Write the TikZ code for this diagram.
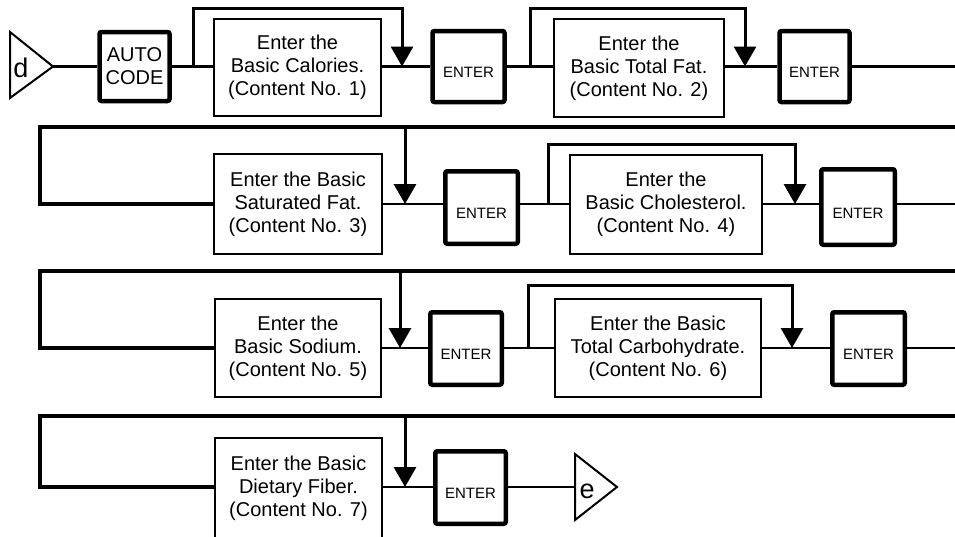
\documentclass[tikz,border=0pt]{standalone}
\usepackage{fontspec}
\setmainfont{Liberation Sans}
\usetikzlibrary{arrows.meta}
\tikzset{
  txtbox/.style={draw, line width=2pt, inner sep=0pt, align=center,
    font=\fontsize{20}{23}\selectfont},
  keybox/.style={draw, line width=4.5pt, rounded corners=2pt, inner sep=0pt,
    align=center, minimum width=72pt, minimum height=71pt,
    font=\fontsize{15}{18}\selectfont, text height=22pt, text depth=0pt},
  autobox/.style={draw, line width=4.5pt, rounded corners=2pt, inner sep=0pt,
    align=center, font=\fontsize{20}{23}\selectfont},
  flow/.style={line width=2.5pt},
  branch/.style={line width=3pt, -{Triangle[width=22pt,length=20pt]}},
  drop/.style={line width=3pt, -{Triangle[width=22pt,length=20pt]}},
  wrap/.style={line width=3.5pt},
  tri/.style={line width=2pt, line join=miter},
  trilabel/.style={inner sep=0pt, font=\fontsize{27}{30}\selectfont}
}
\begin{document}
\begin{tikzpicture}[x=1pt,y=-1pt]
\useasboundingbox (0,0) rectangle (955,536);

% ---------- Row 1 (main line y=66.5) ----------
\coordinate (dtop) at (10,32);
\coordinate (dbot) at (10,98);
\coordinate (dtip) at (53,66.5);
\draw[tri] (dtop) -- (dtip) -- (dbot) -- cycle;
\node[trilabel] (dl) at (21,68) {d};

\node[autobox, minimum width=70pt, minimum height=69pt] (auto) at (134.5,66.5) {AUTO\\CODE};
\node[txtbox, minimum width=167pt, minimum height=97pt] (c1) at (297.5,67.5) {Enter the\\Basic Calories.\\(Content No. 1)};
\node[keybox] (E1) at (468.5,66.5) {ENTER};
\node[txtbox, minimum width=170pt, minimum height=98pt] (c2) at (639,68) {Enter the\\Basic Total Fat.\\(Content No. 2)};
\node[keybox, minimum width=70pt] (E2) at (814.5,66.5) {ENTER};

\coordinate (t1) at (0,8);
\coordinate (b1) at (193,66.5);
\coordinate (m1) at (402,66.5);
\coordinate (b2) at (530,66.5);
\coordinate (m2) at (745,66.5);
\coordinate (r1R) at (955,66.5);

\draw[flow] (dtip) -- (auto.west);
\draw[flow] (auto.east) -- (auto.east -| c1.west);
\draw[flow] (c1.east |- m1) -- (E1.west);
\draw[flow] (E1.east) -- (E1.east -| c2.west);
\draw[flow] (c2.east |- m2) -- (E2.west);
\draw[flow] (E2.east) -- (r1R);
\draw[branch] (b1) -- (b1 |- t1) -| (m1);
\draw[branch] (b2) -- (b2 |- t1) -| (m2);

% ---------- Row 2 (main line y=204) ----------
\coordinate (r2R) at (955,127);
\coordinate (r2L) at (40,127);
\node[txtbox, minimum width=168pt, minimum height=100pt] (c3) at (298,204) {Enter the Basic\\Saturated Fat.\\(Content No. 3)};
\node[keybox, minimum width=72.5pt, minimum height=72.5pt] (E3) at (481.5,207.5) {ENTER};
\node[txtbox, minimum width=192pt, minimum height=99pt] (c4) at (666,204.5) {Enter the\\Basic Cholesterol.\\(Content No. 4)};
\node[keybox, minimum width=73.5pt, minimum height=75.5pt] (E4) at (858,207) {ENTER};

\coordinate (t2) at (0,144);
\coordinate (a2top) at (405,127);
\coordinate (m3) at (405,204);
\coordinate (b4) at (548,204);
\coordinate (m4) at (795,204);
\coordinate (r2E) at (955,204);

\draw[wrap] (r2R) -- (r2L) |- (c3.west |- m3);
\draw[flow] (c3.east |- m3) -- (m3 -| E3.west);
\draw[flow] (m3 -| E3.east) -- (m3 -| c4.west);
\draw[flow] (c4.east |- m4) -- (m4 -| E4.west);
\draw[flow] (m4 -| E4.east) -- (r2E);
\draw[drop] (a2top) -- (m3);
\draw[branch] (b4) -- (b4 |- t2) -| (m4);

% ---------- Row 3 (main line y=348) ----------
\coordinate (r3R) at (955,271);
\coordinate (r3L) at (40,271);
\node[txtbox, minimum width=166pt, minimum height=98pt] (c5) at (298,348) {Enter the\\Basic Sodium.\\(Content No. 5)};
\node[keybox, minimum width=71.5pt, minimum height=72.5pt] (E5) at (466,348.5) {ENTER};
\node[txtbox, minimum width=206pt, minimum height=98pt] (c6) at (658,348) {Enter the Basic\\Total Carbohydrate.\\(Content No. 6)};
\node[keybox, minimum width=72.5pt, minimum height=72.5pt] (E6) at (868.5,348.5) {ENTER};

\coordinate (t3) at (0,285);
\coordinate (a3top) at (400,271);
\coordinate (m5) at (400,348);
\coordinate (b6) at (528,348);
\coordinate (m6) at (792,348);
\coordinate (r3E) at (955,348);

\draw[wrap] (r3R) -- (r3L) |- (c5.west |- m5);
\draw[flow] (c5.east |- m5) -- (m5 -| E5.west);
\draw[flow] (m5 -| E5.east) -- (m5 -| c6.west);
\draw[flow] (c6.east |- m6) -- (m6 -| E6.west);
\draw[flow] (m6 -| E6.east) -- (r3E);
\draw[drop] (a3top) -- (m5);
\draw[branch] (b6) -- (b6 |- t3) -| (m6);

% ---------- Row 4 (main line y=487) ----------
\coordinate (r4R) at (955,416);
\coordinate (r4L) at (40,416);
\node[txtbox, minimum width=167pt, minimum height=100pt] (c7) at (298.5,488) {Enter the Basic\\Dietary Fiber.\\(Content No. 7)};
\node[keybox, minimum width=70.5pt, minimum height=72.5pt] (E7) at (470.5,487.5) {ENTER};

\coordinate (a4top) at (405,416);
\coordinate (m7) at (405,487);
\coordinate (etop) at (575,454);
\coordinate (ebot) at (575,520);
\coordinate (etip) at (617,487);

\draw[wrap] (r4R) -- (r4L) |- (c7.west |- m7);
\draw[flow] (c7.east |- m7) -- (m7 -| E7.west);
\draw[flow] (m7 -| E7.east) -- (etop |- m7);
\draw[drop] (a4top) -- (m7);
\draw[tri] (etop) -- (etip) -- (ebot) -- cycle;
\node[trilabel] (el) at (587,491) {e};
\end{tikzpicture}
\end{document}
